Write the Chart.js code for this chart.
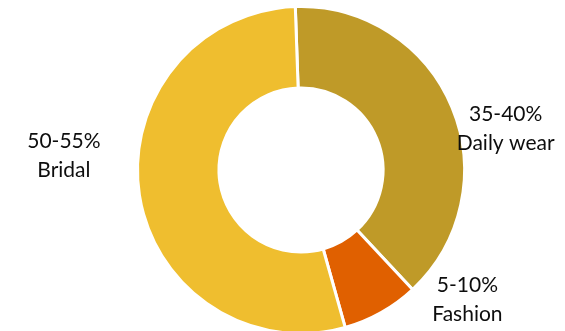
<!DOCTYPE html>
<html>
<head>
<meta charset="utf-8">
<script src="https://cdn.jsdelivr.net/npm/chart.js@4"></script>
<style>
  html, body { margin: 0; padding: 0; background: #fff; overflow: hidden; }
  #wrap { width: 565px; height: 331px; overflow: hidden; }
</style>
</head>
<body>
<div id="wrap"><canvas id="segments-chart" width="565" height="340"></canvas></div>
<script>
// Market share by segment
const segments = ['Daily wear', 'Fashion', 'Bridal'];
const shares = [38.6, 7.6, 53.8];
const shareRanges = ['35-40%', '5-10%', '50-55%'];
const segmentColors = ['#BF9A28', '#E06000', '#EFBE2F'];

// Two-line labels placed beside each slice
const sliceLabels = {
  id: 'sliceLabels',
  afterDatasetsDraw(chart, args, opts) {
    const { ctx } = chart;
    const arcs = chart.getDatasetMeta(0).data;
    ctx.save();
    ctx.fillStyle = opts.color;
    ctx.font = opts.font;
    ctx.textAlign = 'center';
    ctx.textBaseline = 'alphabetic';
    arcs.forEach((arc, i) => {
      const mid = (arc.startAngle + arc.endAngle) / 2;
      const ex = arc.x + Math.cos(mid) * (arc.outerRadius - 1.5);
      const ey = arc.y + Math.sin(mid) * (arc.outerRadius - 1.5);
      const [dx, dy] = opts.offsets[i];
      ctx.fillText(shareRanges[i], ex + dx, ey + dy);
      ctx.fillText(segments[i], ex + dx, ey + dy + opts.lineHeight);
    });
    ctx.restore();
  }
};

new Chart(document.getElementById('segments-chart'), {
  type: 'doughnut',
  data: {
    labels: segments,
    datasets: [{
      data: shares,
      backgroundColor: segmentColors,
      borderColor: '#ffffff',
      borderWidth: 3,
      hoverOffset: 0
    }]
  },
  options: {
    responsive: false,
    animation: false,
    rotation: -2,
    radius: 163.5,
    cutout: '50.2%',
    layout: { padding: { left: 37, right: 0, top: 0, bottom: 0 } },
    plugins: {
      legend: { display: false },
      tooltip: { enabled: false },
      sliceLabels: {
        color: '#0d0d0d',
        font: '21px Lato',
        lineHeight: 29,
        offsets: [[55, 13], [87, -19], [-77, -47]]
      }
    }
  },
  plugins: [sliceLabels]
});
</script>
</body>
</html>
